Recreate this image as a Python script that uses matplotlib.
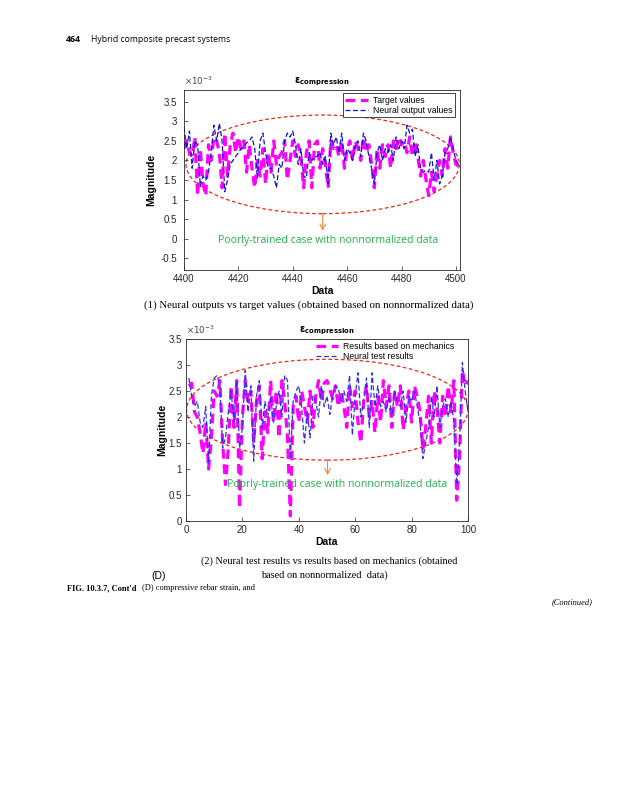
import numpy as np
import matplotlib
matplotlib.use("Agg")
import matplotlib.pyplot as plt
from matplotlib.patches import Ellipse
from matplotlib.ticker import FormatStrFormatter

# ---- data (values in units of 1e-3) ----
x1 = np.arange(4400, 4502)
target_values = [2.3, 2.5, 2.2, 2.1, 2.6, 1.1, 2.3, 1.4, 1.1, 2.4,
                 2.0, 2.6, 2.5, 2.2, 1.3, 2.7, 1.6, 2.4, 2.7, 2.2,
                 2.6, 2.3, 2.5, 1.7, 2.4, 1.8, 1.3, 2.0, 1.6, 2.3,
                 1.4, 2.2, 1.7, 2.5, 1.9, 2.1, 2.2, 2.5, 1.5, 2.0,
                 2.5, 2.1, 2.4, 2.1, 1.3, 2.2, 2.5, 1.3, 2.4, 2.5,
                 1.8, 2.3, 1.9, 1.3, 2.5, 2.3, 2.4, 2.1, 2.5, 1.8,
                 2.3, 2.5, 2.0, 2.5, 2.3, 2.0, 2.6, 2.2, 2.4, 1.9,
                 1.3, 2.3, 1.8, 2.4, 2.1, 2.4, 1.8, 2.5, 2.3, 2.6,
                 2.4, 2.5, 2.2, 2.6, 2.1, 2.5, 2.1, 1.6, 2.0, 1.5,
                 1.1, 1.7, 1.2, 1.6, 2.0, 1.6, 2.3, 1.8, 2.6, 2.2,
                 1.9, 1.85]
neural_output = [2.85, 2.3, 2.75, 1.8, 2.5, 2.4, 1.35, 1.6, 1.5, 1.7,
                 2.2, 2.9, 2.5, 2.95, 2.5, 1.2, 1.5, 1.9, 2.0, 2.1,
                 2.2, 2.3, 2.35, 2.45, 2.5, 2.6, 2.3, 1.55, 2.5, 2.7,
                 2.2, 1.8, 1.8, 1.6, 1.3, 1.9, 1.8, 2.5, 2.7, 2.6,
                 2.75, 2.4, 1.9, 2.3, 1.6, 1.55, 2.2, 2.0, 2.1, 2.1,
                 2.2, 1.9, 2.1, 1.4, 2.7, 2.4, 2.6, 2.2, 2.7, 2.0,
                 2.3, 2.2, 2.0, 2.4, 2.5, 2.1, 2.7, 2.5, 2.1, 1.8,
                 1.4, 2.2, 2.4, 2.0, 2.3, 2.2, 2.4, 2.0, 2.6, 2.3,
                 2.5, 2.3, 2.9, 2.7, 2.8, 2.1, 2.4, 1.8, 1.7, 1.75,
                 1.7, 2.2, 1.5, 2.0, 1.4, 1.6, 2.2, 2.3, 2.6, 2.3,
                 2.0, 1.9]

x2 = np.arange(1, 101)
mechanics = [2.6, 2.65, 2.1, 2.0, 1.7, 1.3, 1.9, 1.0, 1.6, 2.5,
             2.4, 2.7, 1.5, 0.7, 1.4, 2.6, 1.8, 2.7, 0.25, 2.0,
             2.7, 2.3, 2.5, 1.5, 2.3, 2.6, 1.2, 2.1, 1.7, 2.7,
             1.9, 2.5, 1.6, 2.7, 2.3, 1.6, 0.1, 2.2, 2.4, 1.9,
             2.5, 2.2, 1.9, 2.5, 1.8, 2.4, 2.7, 2.3, 2.65, 2.7,
             2.55, 2.35, 2.6, 2.2, 2.5, 2.2, 1.8, 2.6, 2.2, 2.5,
             1.9, 1.5, 2.3, 2.6, 2.0, 2.3, 1.7, 2.4, 1.9, 2.7,
             2.2, 2.6, 1.8, 2.5, 2.2, 2.6, 1.75, 2.2, 2.5, 1.9,
             2.6, 2.4, 2.1, 1.4, 1.8, 2.4, 1.5, 2.5, 2.2, 1.5,
             2.4, 2.0, 2.6, 2.1, 2.7, 0.4, 1.2, 2.9, 2.6, 2.7]
neural_test = [2.75, 2.4, 2.2, 2.3, 1.9, 1.8, 2.2, 1.1, 2.4, 2.75,
               2.8, 2.6, 1.4, 1.6, 2.1, 2.5, 1.9, 2.7, 1.4, 1.8,
               2.9, 2.1, 2.6, 1.15, 2.4, 2.7, 1.8, 2.3, 2.0, 2.4,
               1.9, 2.2, 2.5, 2.0, 2.8, 2.7, 1.2, 2.3, 2.5, 2.6,
               2.2, 1.5, 2.1, 1.6, 2.4, 2.3, 2.0, 2.6, 2.2, 2.4,
               2.05, 2.4, 2.6, 2.55, 2.3, 2.5, 2.3, 2.8, 1.65, 2.4,
               2.85, 2.0, 2.3, 2.75, 1.8, 2.85, 2.2, 2.6, 2.2, 2.3,
               2.1, 2.4, 2.0, 2.5, 2.3, 2.2, 2.5, 1.9, 2.4, 2.3,
               2.5, 2.2, 1.9, 1.2, 1.5, 1.8, 2.4, 2.0, 2.6, 1.8,
               2.2, 2.35, 2.0, 2.3, 1.9, 0.7, 1.5, 3.05, 2.5, 2.1]

MAG = "#ff00ff"
BLUE = "#1010d8"
RED = "#e82a1e"
ORANGE = "#f08a3c"
GREEN = "#22b24c"
note = "Poorly-trained case with nonnormalized data"
sans2 = ["Open Sans", "DejaVu Sans"]
serif = ["Liberation Serif", "DejaVu Serif"]

plt.rcParams["font.family"] = ["Liberation Sans", "DejaVu Sans"]
fig = plt.figure(figsize=(6.25, 8), dpi=100)


def style_axes(ax, ypad, ylabelpad):
    ax.tick_params(direction="in", labelsize=7, length=3, width=0.5, colors="#262626")
    ax.tick_params(axis="y", pad=ypad)
    ax.tick_params(axis="x", pad=3)
    for s in ax.spines.values():
        s.set_linewidth(0.6)
        s.set_color("#262626")
    ax.yaxis.set_major_formatter(FormatStrFormatter("%g"))
    ax.set_xlabel("Data", fontsize=7.5, fontweight="bold", labelpad=1)
    ax.set_ylabel("Magnitude", fontsize=7.5, fontweight="bold", labelpad=ylabelpad)
    ax.text(0.5, 1.012, r"$\boldsymbol{\varepsilon}_{\mathbf{compression}}$", transform=ax.transAxes,
            ha="center", va="bottom", fontsize=7)
    ax.text(0.0, 1.015, r"$\times10^{-3}$", transform=ax.transAxes,
            ha="left", va="bottom", fontsize=6.2, color="#404040")


def add_legend(ax, anchor):
    leg = ax.legend(loc="upper right", bbox_to_anchor=anchor, bbox_transform=fig.transFigure,
                    fontsize=6.2, frameon=True, fancybox=False, edgecolor="#262626",
                    borderpad=0.3, labelspacing=0.15, handlelength=2.6, handletextpad=0.6,
                    borderaxespad=0, framealpha=1)
    leg.get_frame().set_linewidth(0.6)
    return leg


# ---- top chart ----
ax1 = fig.add_axes([184 / 625, 1 - 270 / 800, 276 / 625, 180 / 800])
ax1.plot(x1, target_values, color=MAG, lw=2.3, ls=(0, (3, 1.8)), label="Target values")
ax1.plot(x1, neural_output, color=BLUE, lw=0.9, ls=(0, (4, 2)), label="Neural output values")
ax1.set_xlim(4400, 4501.5)
ax1.set_ylim(-0.8, 3.8)
ax1.set_xticks(np.arange(4400, 4501, 20))
ax1.set_yticks(np.arange(-0.5, 3.6, 0.5))
style_axes(ax1, 5, 3)
add_legend(ax1, (455 / 625, 1 - 93 / 800))
ax1.add_patch(Ellipse((4451, 1.9), 100.5, 2.52, fill=False, ec=RED, ls=(0, (3, 2)), lw=0.9))
ax1.annotate("", xy=(4451, 0.2), xytext=(4451, 0.64),
             arrowprops=dict(arrowstyle="->", color=ORANGE, lw=0.8, shrinkA=0, shrinkB=0))
ax1.text(4453, -0.04, note, color=GREEN, ha="center", va="center", fontsize=7.6, family=sans2)

# ---- bottom chart ----
ax2 = fig.add_axes([186 / 625, 1 - 521 / 800, 282 / 625, 182 / 800])
ax2.plot(x2, mechanics, color=MAG, lw=2.3, ls=(0, (3, 1.8)), label="Results based on mechanics")
ax2.plot(x2, neural_test, color="#3030e8", lw=0.9, ls=(0, (4, 2)), label="Neural test results")
ax2.set_xlim(0, 100)
ax2.set_ylim(0, 3.5)
ax2.set_xticks(np.arange(0, 101, 20))
ax2.set_yticks(np.arange(0, 3.6, 0.5))
style_axes(ax2, 3, 1)
leg2 = add_legend(ax2, (457 / 625, 1 - 339 / 800))
leg2.get_frame().set_alpha(0.0)
ax2.add_patch(Ellipse((50.1, 2.14), 99.8, 1.94, fill=False, ec=RED, ls=(0, (3, 2)), lw=0.9))
ax2.annotate("", xy=(50.2, 0.88), xytext=(50.2, 1.17),
             arrowprops=dict(arrowstyle="->", color=ORANGE, lw=0.8, shrinkA=0, shrinkB=0))
ax2.text(53.7, 0.71, note, color=GREEN, ha="center", va="center", fontsize=7.6, family=sans2)

# ---- page text ----
fig.text(66 / 625, 1 - 40 / 800, "464", fontsize=6.4, fontweight="bold", va="center", family=sans2)
fig.text(91 / 625, 1 - 40 / 800, "Hybrid composite precast systems", fontsize=6.2, va="center",
         family=sans2)
fig.text(309 / 625, 1 - 305 / 800,
         "(1) Neural outputs vs target values (obtained based on nonnormalized data)",
         fontsize=7.8, ha="center", va="center", family=serif)
fig.text(329 / 625, 1 - 561.5 / 800,
         "(2) Neural test results vs results based on mechanics (obtained",
         fontsize=7.4, ha="center", va="center", family=serif)
fig.text(324 / 625, 1 - 575.5 / 800, "based on nonnormalized  data)",
         fontsize=7.4, ha="center", va="center", family=serif)
fig.text(159 / 625, 1 - 576 / 800, "(D)", fontsize=7.5, ha="center", va="center")
fig.text(67 / 625, 1 - 588 / 800, "FIG. 10.3.7, Cont'd", fontsize=6, fontweight="bold",
         va="center", family=serif)
fig.text(142 / 625, 1 - 588 / 800, "(D) compressive rebar strain, and", fontsize=6,
         va="center", family=serif)
fig.text(593 / 625, 1 - 602 / 800, "(Continued)", fontsize=6, style="italic",
         ha="right", va="center", family=serif)

fig.savefig("out.png", dpi=100)
